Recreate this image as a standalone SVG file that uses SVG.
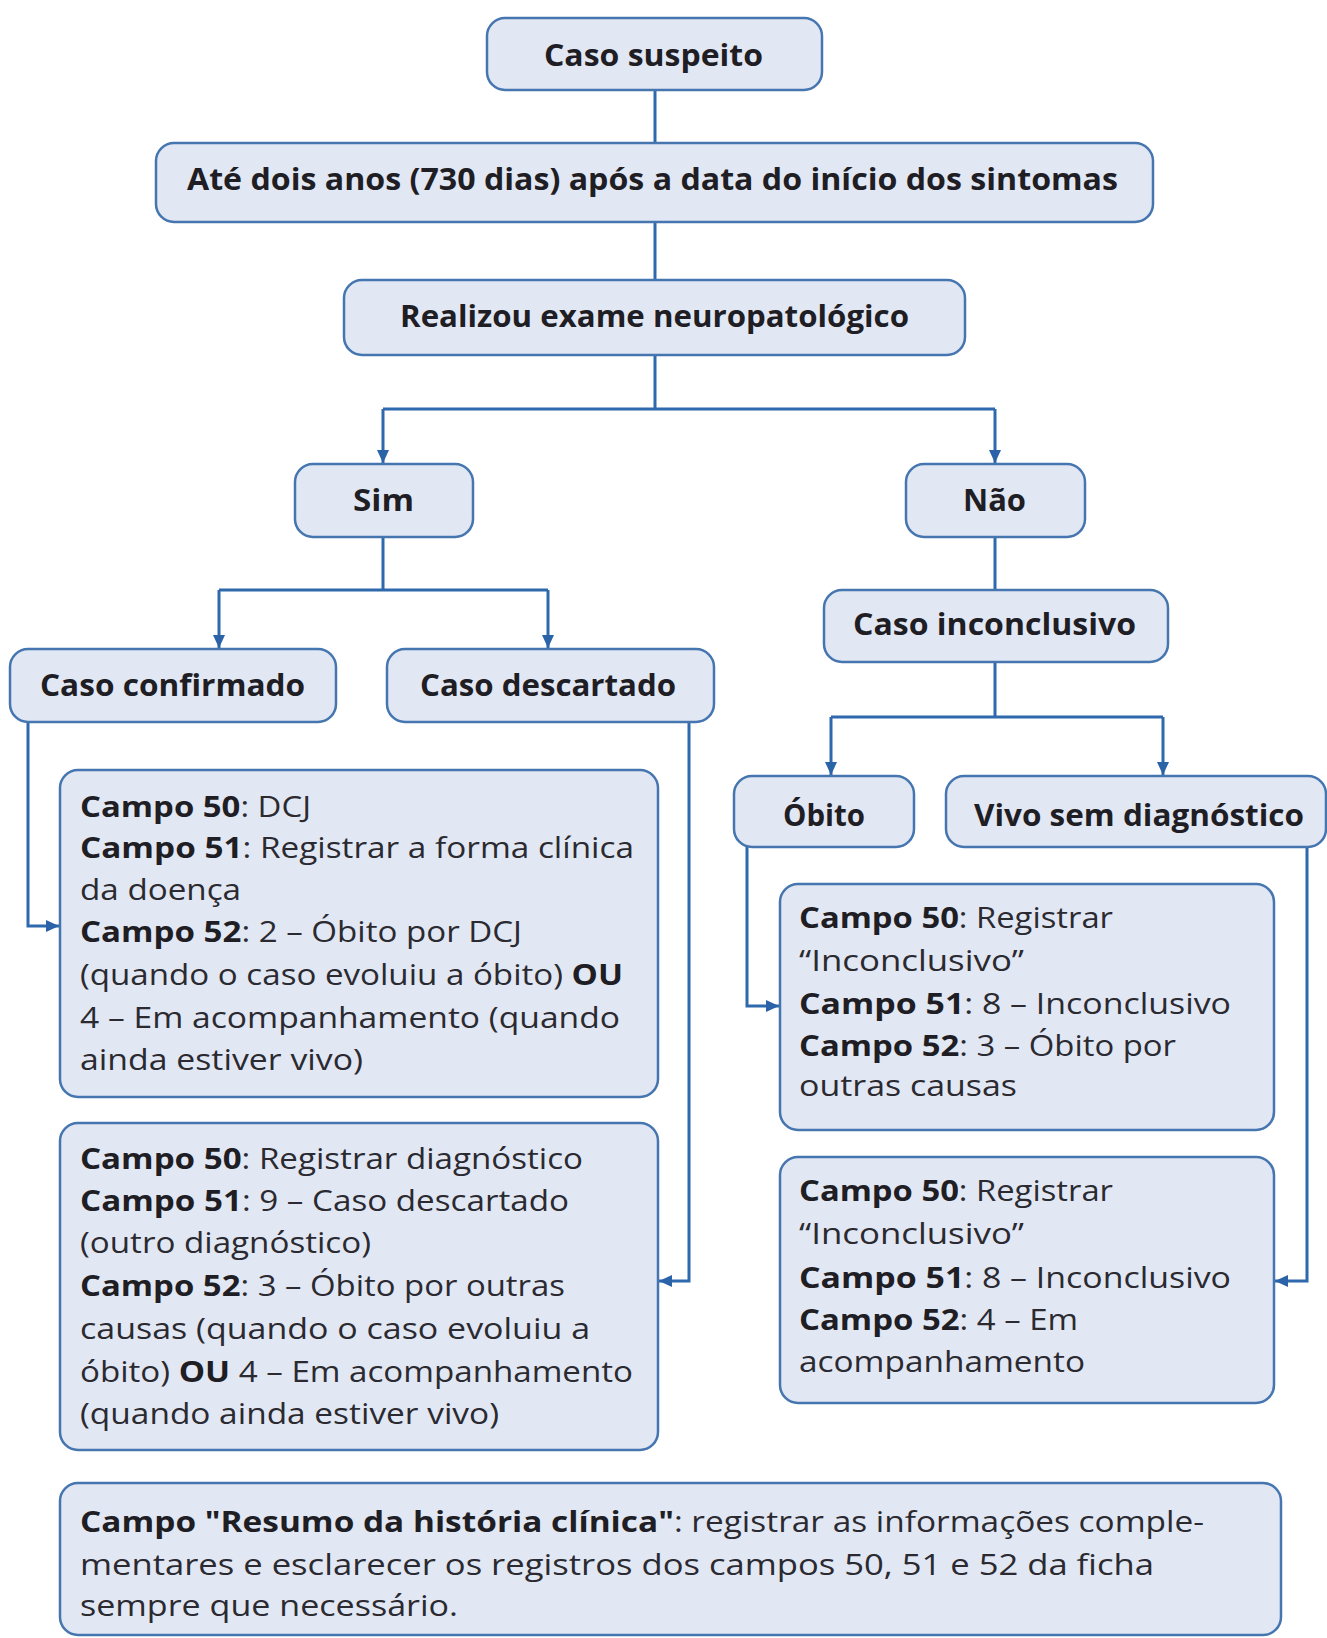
<svg xmlns="http://www.w3.org/2000/svg" width="1327" height="1638" viewBox="0 0 1327 1638">
<style>
.box{fill:#e2e7f4;stroke:#4676b0;stroke-width:2.5}
.h{font-family:"Open Sans",Roboto,"Liberation Sans",sans-serif;font-weight:bold;font-size:30px;fill:#1e1e24;text-anchor:middle}
.t{font-family:"Open Sans",Roboto,"Liberation Sans",sans-serif;font-size:29px;fill:#2a2a30}
.t tspan.b{font-weight:bold;fill:#1e1e24}
.c{fill:none;stroke:#2f69ad;stroke-width:3}
</style>
<defs>
<marker id="ah" markerUnits="userSpaceOnUse" markerWidth="14" markerHeight="12" refX="13" refY="6" orient="auto">
<path d="M0,0 L13,6 L0,12 Z" fill="#2a63a8"/>
</marker>
</defs>
<rect width="1327" height="1638" fill="#ffffff"/>
<g id="connectors">
<path class="c" d="M655,89 V143"/>
<path class="c" d="M655,222 V280"/>
<path class="c" d="M655,355 V409"/>
<path class="c" d="M383,409 H995"/>
<path class="c" d="M383,409 V463" marker-end="url(#ah)"/>
<path class="c" d="M995,409 V463" marker-end="url(#ah)"/>
<path class="c" d="M383,537 V590"/>
<path class="c" d="M219,590 H548"/>
<path class="c" d="M219,590 V648" marker-end="url(#ah)"/>
<path class="c" d="M548,590 V648" marker-end="url(#ah)"/>
<path class="c" d="M28,722 V926 H59" marker-end="url(#ah)"/>
<path class="c" d="M689,722 V1281 H659" marker-end="url(#ah)"/>
<path class="c" d="M995,537 V590"/>
<path class="c" d="M995,662 V717"/>
<path class="c" d="M831,717 H1163"/>
<path class="c" d="M831,717 V775" marker-end="url(#ah)"/>
<path class="c" d="M1163,717 V775" marker-end="url(#ah)"/>
<path class="c" d="M747,847 V1006 H779" marker-end="url(#ah)"/>
<path class="c" d="M1307,847 V1281 H1275" marker-end="url(#ah)"/>
</g>
<g id="caso-suspeito">
<rect class="box" x="487" y="18" width="335" height="72" rx="18"/>
<text class="h" x="653.5" y="66" textLength="219" lengthAdjust="spacingAndGlyphs">Caso suspeito</text>
</g>
<g id="ate-dois-anos">
<rect class="box" x="156" y="143" width="997" height="79" rx="18"/>
<text class="h" x="652.5" y="190" textLength="931" lengthAdjust="spacingAndGlyphs">Até dois anos (730 dias) após a data do início dos sintomas</text>
</g>
<g id="realizou-exame">
<rect class="box" x="344" y="280" width="621" height="75" rx="18"/>
<text class="h" x="654.5" y="327" textLength="509" lengthAdjust="spacingAndGlyphs">Realizou exame neuropatológico</text>
</g>
<g id="sim">
<rect class="box" x="295" y="464" width="178" height="73" rx="18"/>
<text class="h" x="383.5" y="511" textLength="61" lengthAdjust="spacingAndGlyphs">Sim</text>
</g>
<g id="nao">
<rect class="box" x="906" y="464" width="179" height="73" rx="18"/>
<text class="h" x="994.5" y="511" textLength="63" lengthAdjust="spacingAndGlyphs">Não</text>
</g>
<g id="caso-confirmado">
<rect class="box" x="10" y="649" width="326" height="73" rx="18"/>
<text class="h" x="172.5" y="696" textLength="265" lengthAdjust="spacingAndGlyphs">Caso confirmado</text>
</g>
<g id="caso-descartado">
<rect class="box" x="387" y="649" width="327" height="73" rx="18"/>
<text class="h" x="548" y="696" textLength="256" lengthAdjust="spacingAndGlyphs">Caso descartado</text>
</g>
<g id="caso-inconclusivo">
<rect class="box" x="824" y="590" width="344" height="72" rx="18"/>
<text class="h" x="994.5" y="635" textLength="283" lengthAdjust="spacingAndGlyphs">Caso inconclusivo</text>
</g>
<g id="obito">
<rect class="box" x="734" y="776" width="180" height="71" rx="18"/>
<text class="h" x="824" y="826" textLength="82" lengthAdjust="spacingAndGlyphs">Óbito</text>
</g>
<g id="vivo-sem-diagnostico">
<rect class="box" x="946" y="776" width="380" height="71" rx="18"/>
<text class="h" x="1139" y="826" textLength="330" lengthAdjust="spacingAndGlyphs">Vivo sem diagnóstico</text>
</g>
<g id="confirmado-campos">
<rect class="box" x="60" y="770" width="598" height="327" rx="18"/>
<text class="t" x="80" y="817" textLength="231" lengthAdjust="spacingAndGlyphs"><tspan class="b">Campo 50</tspan>: DCJ</text>
<text class="t" x="80" y="858" textLength="554" lengthAdjust="spacingAndGlyphs"><tspan class="b">Campo 51</tspan>: Registrar a forma clínica</text>
<text class="t" x="80" y="900" textLength="161" lengthAdjust="spacingAndGlyphs">da doença</text>
<text class="t" x="80" y="942" textLength="442" lengthAdjust="spacingAndGlyphs"><tspan class="b">Campo 52</tspan>: 2 – Óbito por DCJ</text>
<text class="t" x="80" y="985" textLength="543" lengthAdjust="spacingAndGlyphs">(quando o caso evoluiu a óbito) <tspan class="b">OU</tspan></text>
<text class="t" x="80" y="1028" textLength="540" lengthAdjust="spacingAndGlyphs">4 – Em acompanhamento (quando</text>
<text class="t" x="80" y="1070" textLength="283" lengthAdjust="spacingAndGlyphs">ainda estiver vivo)</text>
</g>
<g id="descartado-campos">
<rect class="box" x="60" y="1123" width="598" height="327" rx="18"/>
<text class="t" x="80" y="1169" textLength="503" lengthAdjust="spacingAndGlyphs"><tspan class="b">Campo 50</tspan>: Registrar diagnóstico</text>
<text class="t" x="80" y="1211" textLength="489" lengthAdjust="spacingAndGlyphs"><tspan class="b">Campo 51</tspan>: 9 – Caso descartado</text>
<text class="t" x="80" y="1253" textLength="291" lengthAdjust="spacingAndGlyphs">(outro diagnóstico)</text>
<text class="t" x="80" y="1296" textLength="485" lengthAdjust="spacingAndGlyphs"><tspan class="b">Campo 52</tspan>: 3 – Óbito por outras</text>
<text class="t" x="80" y="1339" textLength="510" lengthAdjust="spacingAndGlyphs">causas (quando o caso evoluiu a</text>
<text class="t" x="80" y="1382" textLength="553" lengthAdjust="spacingAndGlyphs">óbito) <tspan class="b">OU</tspan> 4 – Em acompanhamento</text>
<text class="t" x="80" y="1424" textLength="419" lengthAdjust="spacingAndGlyphs">(quando ainda estiver vivo)</text>
</g>
<g id="obito-campos">
<rect class="box" x="780" y="884" width="494" height="246" rx="18"/>
<text class="t" x="799" y="928" textLength="314" lengthAdjust="spacingAndGlyphs"><tspan class="b">Campo 50</tspan>: Registrar</text>
<text class="t" x="799" y="971" textLength="225" lengthAdjust="spacingAndGlyphs">“Inconclusivo”</text>
<text class="t" x="799" y="1014" textLength="432" lengthAdjust="spacingAndGlyphs"><tspan class="b">Campo 51</tspan>: 8 – Inconclusivo</text>
<text class="t" x="799" y="1056" textLength="377" lengthAdjust="spacingAndGlyphs"><tspan class="b">Campo 52</tspan>: 3 – Óbito por</text>
<text class="t" x="799" y="1096" textLength="218" lengthAdjust="spacingAndGlyphs">outras causas</text>
</g>
<g id="vivo-campos">
<rect class="box" x="780" y="1157" width="494" height="246" rx="18"/>
<text class="t" x="799" y="1201" textLength="314" lengthAdjust="spacingAndGlyphs"><tspan class="b">Campo 50</tspan>: Registrar</text>
<text class="t" x="799" y="1244" textLength="225" lengthAdjust="spacingAndGlyphs">“Inconclusivo”</text>
<text class="t" x="799" y="1288" textLength="432" lengthAdjust="spacingAndGlyphs"><tspan class="b">Campo 51</tspan>: 8 – Inconclusivo</text>
<text class="t" x="799" y="1330" textLength="279" lengthAdjust="spacingAndGlyphs"><tspan class="b">Campo 52</tspan>: 4 – Em</text>
<text class="t" x="799" y="1372" textLength="286" lengthAdjust="spacingAndGlyphs">acompanhamento</text>
</g>
<g id="resumo">
<rect class="box" x="60" y="1483" width="1221" height="152" rx="18"/>
<text class="t" x="80" y="1532" textLength="1124" lengthAdjust="spacingAndGlyphs"><tspan class="b">Campo "Resumo da história clínica"</tspan>: registrar as informações comple-</text>
<text class="t" x="80" y="1575" textLength="1074" lengthAdjust="spacingAndGlyphs">mentares e esclarecer os registros dos campos 50, 51 e 52 da ficha</text>
<text class="t" x="80" y="1616" textLength="378" lengthAdjust="spacingAndGlyphs">sempre que necessário.</text>
</g>
</svg>
